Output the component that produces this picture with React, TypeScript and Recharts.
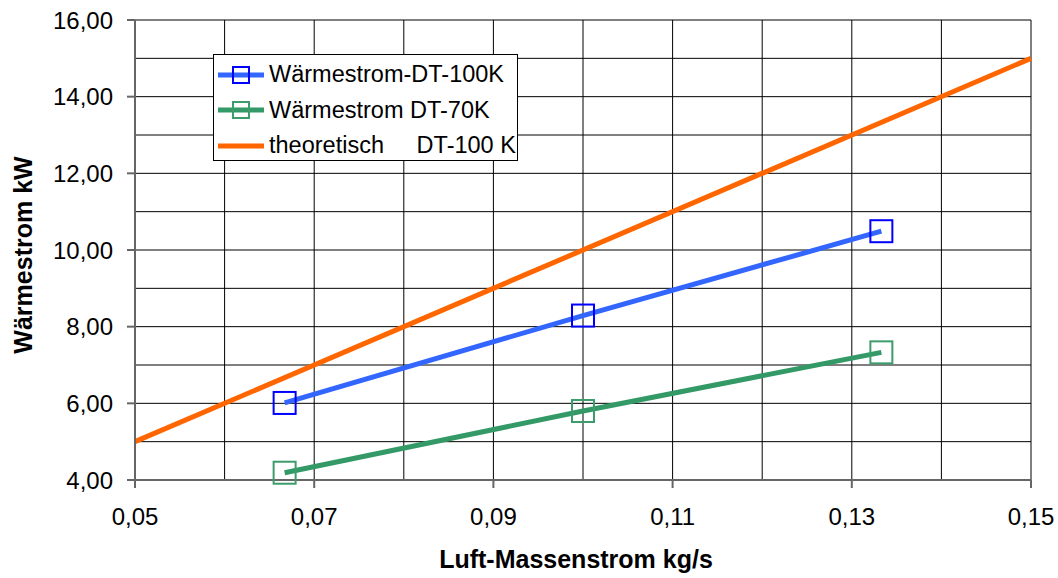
import { CartesianGrid, Label, Legend, Line, LineChart, XAxis, YAxis } from "recharts"

// Luft-Massenstrom in kg/s (240, 360, 480 kg/h)
const massFlow = [0.0667, 0.1, 0.1333]
const heatDT100 = [6.01, 8.29, 10.49]
const heatDT70 = [4.19, 5.8, 7.33]

const theoryFlow = [0.05, 0.15]
const theoryHeat = [5, 15]

const xTicks = [0.05, 0.07, 0.09, 0.11, 0.13, 0.15]
const xGrid = [0.05, 0.06, 0.07, 0.08, 0.09, 0.1, 0.11, 0.12, 0.13, 0.14, 0.15]
const yTicks = [4, 6, 8, 10, 12, 14, 16]
const yGrid = [4, 5, 6, 7, 8, 9, 10, 11, 12, 13, 14, 15, 16]

const dt100 = massFlow.map((x, i) => ({ x, y: heatDT100[i] }))
const dt70 = massFlow.map((x, i) => ({ x, y: heatDT70[i] }))
const theory = theoryFlow.map((x, i) => ({ x, y: theoryHeat[i] }))

const series = [
    { key: "dt100", name: "Wärmestrom-DT-100K", line: "#3366ff", marker: "#0000ff" },
    { key: "dt70", name: "Wärmestrom DT-70K", line: "#339966", marker: "#3c9c6c" },
    { key: "theory", name: "theoretisch     DT-100 K", line: "#ff6600", marker: null },
]

const font = "'Liberation Sans', Arial, sans-serif"
const fmt = (v: number) => v.toFixed(2).replace(".", ",")

function Square(props: any) {
    const { cx, cy, stroke } = props
    if (cx == null || cy == null) return null
    const s = 22
    return <rect x={cx - s / 2} y={cy - s / 2} width={s} height={s} fill="none" stroke={stroke} strokeWidth={2} />
}

function LegendBox() {
    return (
        <div
            style={{
                background: "#fff",
                border: "1px solid #000",
                width: 305,
                height: 107,
                boxSizing: "border-box",
                padding: "2px 0 0 4px",
                fontFamily: font,
                fontSize: 23.5,
                color: "#000",
            }}
        >
            {series.map((s) => (
                <div key={s.key} style={{ display: "flex", alignItems: "center", height: 35.5 }}>
                    <svg width={51} height={20} style={{ flex: "none" }}>
                        <line x1={0} y1={10} x2={46} y2={10} stroke={s.line} strokeWidth={5} />
                        {s.marker && (
                            <rect x={15} y={2} width={16} height={16} fill="none" stroke={s.marker} strokeWidth={2} />
                        )}
                    </svg>
                    <span style={{ whiteSpace: "pre" }}>{s.name}</span>
                </div>
            ))}
        </div>
    )
}

function YTitle(props: any) {
    const vb = props.viewBox
    const cy = vb.y + vb.height / 2 + 5
    return (
        <text
            x={23}
            y={cy}
            transform={`rotate(-90 23 ${cy})`}
            textAnchor="middle"
            dominantBaseline="central"
            fontFamily={font}
            fontWeight="bold"
            fontSize={25}
            fill="#000"
        >
            Wärmestrom kW
        </text>
    )
}

export default function App() {
    return (
        <div style={{ position: "absolute", left: 0, top: 0 }}>
            <LineChart width={1058} height={578} margin={{ top: 20, right: 27, bottom: 0, left: 0 }}>
                <XAxis xAxisId="grid" type="number" dataKey="x" domain={[0.05, 0.15]} ticks={xGrid} hide allowDataOverflow />
                <YAxis yAxisId="grid" type="number" domain={[4, 16]} ticks={yGrid} hide allowDataOverflow />
                <CartesianGrid xAxisId="grid" yAxisId="grid" stroke="#000" strokeWidth={1} />
                <XAxis
                    type="number"
                    dataKey="x"
                    domain={[0.05, 0.15]}
                    ticks={xTicks}
                    tickFormatter={fmt}
                    height={98}
                    tickSize={8}
                    tickMargin={20}
                    stroke="#666"
                    strokeWidth={2}
                    tick={{ fill: "#000", fontSize: 24, fontFamily: font }}
                >
                    <Label
                        value="Luft-Massenstrom kg/s"
                        position="insideBottom"
                        offset={10}
                        dx={-7}
                        fill="#000"
                        fontSize={25}
                        fontWeight="bold"
                        fontFamily={font}
                    />
                </XAxis>
                <YAxis
                    type="number"
                    domain={[4, 16]}
                    ticks={yTicks}
                    tickFormatter={fmt}
                    width={135}
                    tickSize={8}
                    tickMargin={14}
                    stroke="#666"
                    strokeWidth={2}
                    tick={{ fill: "#000", fontSize: 24, fontFamily: font }}
                >
                    <Label content={<YTitle />} />
                </YAxis>
                <Legend
                    layout="vertical"
                    align="center"
                    verticalAlign="middle"
                    content={<LegendBox />}
                    wrapperStyle={{ left: 213, top: 54, width: 305, height: 107 }}
                />
                <Line
                    data={theory}
                    dataKey="y"
                    name={series[2].name}
                    stroke={series[2].line}
                    strokeWidth={5}
                    dot={false}
                    isAnimationActive={false}
                />
                <Line
                    data={dt70}
                    dataKey="y"
                    name={series[1].name}
                    stroke={series[1].line}
                    strokeWidth={5}
                    dot={<Square stroke={series[1].marker} />}
                    isAnimationActive={false}
                />
                <Line
                    data={dt100}
                    dataKey="y"
                    name={series[0].name}
                    stroke={series[0].line}
                    strokeWidth={5}
                    dot={<Square stroke={series[0].marker} />}
                    isAnimationActive={false}
                />
            </LineChart>
        </div>
    )
}
